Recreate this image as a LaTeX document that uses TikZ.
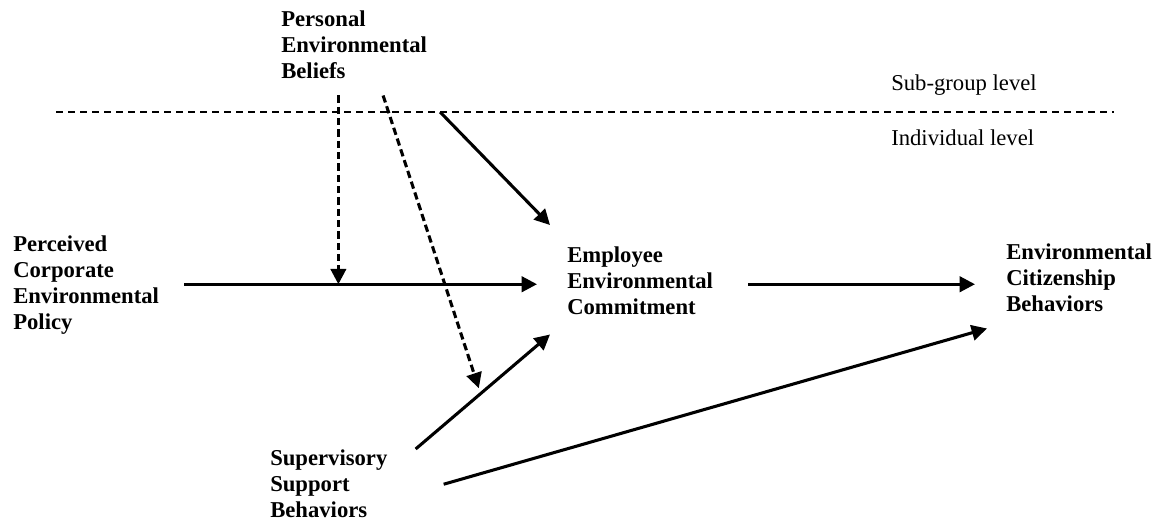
\documentclass[tikz,border=0pt]{standalone}
\usepackage{fontspec}
\setmainfont{Liberation Serif}
\usetikzlibrary{arrows.meta}

\begin{document}
\begin{tikzpicture}[x=0.75pt,y=-0.75pt,
  concept/.style={anchor=north west,inner sep=0pt,align=left,
    font=\fontsize{17}{19.5}\selectfont\bfseries},
  levelname/.style={anchor=base west,inner sep=0pt,
    font=\fontsize{17}{19.5}\selectfont},
  link/.style={line width=2.3pt,-{Triangle[length=11.5pt,width=11.5pt]}},
  moderation/.style={link,dash pattern=on 5.5pt off 3pt},
  levelline/.style={line width=0.9pt,dash pattern=on 5pt off 4pt}]
\useasboundingbox (0,0) rectangle (1159,521);

% constructs
\node[concept] (beliefs) at (281,11) {Personal\\Environmental\\Beliefs};
\node[concept] (policy)  at (13,236) {Perceived\\Corporate\\Environmental\\Policy};
\node[concept] (commit)  at (567,247) {Employee\\Environmental\\Commitment};
\node[concept] (ecb)     at (1006,244) {Environmental\\Citizenship\\Behaviors};
\node[concept] (support) at (270,449) {Supervisory\\Support\\Behaviors};

% level separator
\node[levelname] (subgroup) at (891,90) {Sub-group level};
\node[levelname] (indiv) at (891,145) {Individual level};
\coordinate (lineL) at (56,112);
\coordinate (lineR) at (1114,112);
\draw[levelline] (lineL) -- coordinate[pos=0.363] (crossStart) (lineR);

% direct effects
\draw[link] ([shift={(25,3)}]policy.east |- commit.west)
  -- coordinate[pos=0.437] (modPoint) ([shift={(-30,3)}]commit.west);
\draw[link] ([shift={(35,3)}]commit.east)
  -- ([shift={(-31,3)}]ecb.west |- commit.east);
\draw[link] ([shift={(28,0)}]support.north east)
  -- coordinate[pos=0.47] (supPoint) ([shift={(-17,19)}]commit.south west);
\draw[link] ([shift={(56,1)}]support.east)
  -- ([shift={(-19,16)}]ecb.south west);
\draw[link] (crossStart) -- ([shift={(-17,-22)}]commit.north west);

% moderating effects of personal beliefs
\draw[moderation] ([yshift=-12pt]beliefs.south -| modPoint) -- (modPoint);
\draw[moderation] ([shift={(29,16)}]beliefs.south) -- ([shift={(0,-7)}]supPoint);
\end{tikzpicture}
\end{document}
